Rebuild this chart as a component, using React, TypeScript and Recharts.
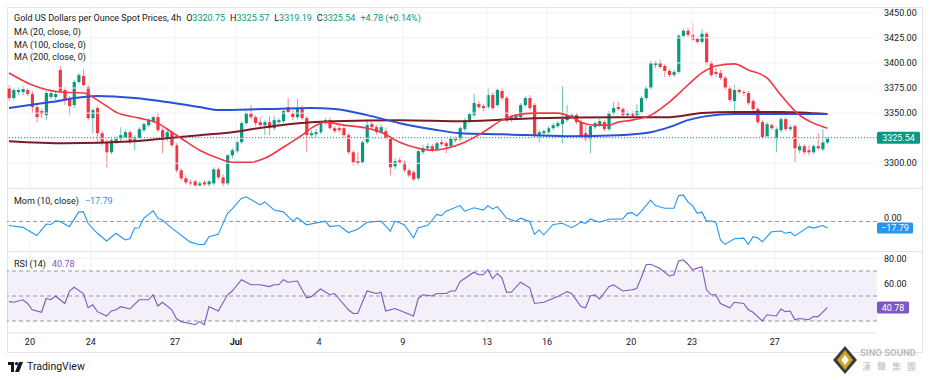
import { ComposedChart, Bar, Line, XAxis, YAxis, ReferenceLine, ReferenceArea } from 'recharts'

const UP = '#089981'
const DOWN = '#f23645'
const TEXT = '#131722'
const GRID = '#f0f3fa'
const BORDER = '#e0e3eb'
const DASH = '#9598a1'
const FONT = 'Roboto, "Noto Sans", sans-serif'

// 4h candles, oldest first
const opens = [
  3375, 3365, 3371, 3371, 3373, 3369, 3356, 3352, 3348, 3366,
  3366, 3393, 3373, 3365, 3358, 3381, 3387, 3376, 3345, 3355,
  3330, 3321, 3311, 3322, 3324, 3326, 3331, 3323, 3325, 3333,
  3338, 3342, 3346, 3333, 3325, 3331, 3318, 3293, 3285, 3281,
  3282, 3278, 3281, 3279, 3280, 3294, 3286, 3280, 3308, 3312,
  3321, 3340, 3350, 3346, 3341, 3338, 3341, 3335, 3341, 3342,
  3356, 3350, 3346, 3355, 3345, 3328, 3329, 3331, 3340, 3343,
  3335, 3335, 3335, 3328, 3311, 3302, 3301, 3321, 3339, 3336,
  3331, 3332, 3325, 3297, 3303, 3301, 3293, 3291, 3285, 3311,
  3315, 3317, 3314, 3321, 3320, 3317, 3325, 3324, 3334, 3342,
  3348, 3359, 3357, 3356, 3368, 3358, 3372, 3365, 3344, 3345,
  3346, 3358, 3365, 3358, 3328, 3330, 3331, 3335, 3337, 3339,
  3343, 3346, 3348, 3341, 3330, 3324, 3336, 3338, 3341, 3334,
  3350, 3356, 3354, 3348, 3350, 3348, 3351, 3365, 3375, 3398,
  3400, 3397, 3392, 3388, 3391, 3427, 3432, 3428, 3424, 3421,
  3429, 3400, 3391, 3390, 3385, 3375, 3362, 3373, 3371, 3370,
  3362, 3354, 3341, 3327, 3338, 3324, 3333, 3344, 3334, 3337,
  3313, 3317, 3313, 3311, 3317, 3314, 3320.75,
]
const highs = [
  3378, 3375, 3376, 3377, 3375, 3372, 3359, 3355, 3372, 3372,
  3371, 3397, 3376, 3367, 3383, 3390, 3394, 3378, 3355, 3357,
  3332, 3324, 3325, 3327, 3336, 3333, 3333, 3328, 3336, 3341,
  3345, 3347, 3351, 3336, 3333, 3333, 3320, 3295, 3288, 3284,
  3284, 3282, 3283, 3283, 3296, 3296, 3289, 3309, 3315, 3323,
  3342, 3352, 3358, 3348, 3346, 3343, 3347, 3347, 3345, 3353,
  3365, 3353, 3364, 3358, 3347, 3333, 3334, 3342, 3345, 3346,
  3337, 3338, 3337, 3330, 3313, 3311, 3323, 3343, 3341, 3338,
  3338, 3336, 3327, 3305, 3306, 3303, 3295, 3293, 3314, 3318,
  3320, 3319, 3322, 3324, 3322, 3327, 3327, 3337, 3345, 3351,
  3369, 3362, 3359, 3375, 3371, 3375, 3375, 3367, 3348, 3349,
  3360, 3367, 3368, 3360, 3333, 3334, 3337, 3340, 3342, 3377,
  3358, 3350, 3350, 3343, 3338, 3339, 3342, 3344, 3343, 3352,
  3361, 3361, 3356, 3352, 3352, 3359, 3367, 3377, 3402, 3402,
  3403, 3399, 3394, 3393, 3429, 3434, 3435, 3440, 3426, 3434,
  3431, 3402, 3395, 3393, 3387, 3377, 3378, 3376, 3373, 3372,
  3364, 3356, 3343, 3341, 3340, 3336, 3346, 3346, 3338, 3339,
  3320, 3319, 3318, 3319, 3330, 3334, 3325.57,
]
const lows = [
  3362, 3363, 3368, 3368, 3367, 3350, 3341, 3345, 3343, 3364,
  3363, 3371, 3358, 3348, 3355, 3379, 3376, 3343, 3330, 3320,
  3318, 3296, 3309, 3319, 3322, 3324, 3319, 3313, 3323, 3331,
  3336, 3340, 3331, 3310, 3322, 3316, 3291, 3283, 3279, 3278,
  3277, 3277, 3277, 3277, 3278, 3284, 3277, 3278, 3305, 3310,
  3319, 3338, 3344, 3337, 3336, 3328, 3328, 3333, 3339, 3340,
  3350, 3343, 3344, 3343, 3311, 3325, 3326, 3329, 3338, 3333,
  3330, 3331, 3326, 3309, 3298, 3298, 3299, 3319, 3334, 3329,
  3329, 3323, 3288, 3294, 3299, 3291, 3286, 3282, 3283, 3309,
  3313, 3311, 3312, 3317, 3310, 3315, 3321, 3322, 3332, 3340,
  3346, 3354, 3352, 3354, 3353, 3356, 3363, 3341, 3341, 3343,
  3344, 3356, 3353, 3326, 3321, 3328, 3329, 3333, 3335, 3320,
  3341, 3344, 3339, 3324, 3322, 3310, 3334, 3336, 3332, 3332,
  3348, 3352, 3346, 3346, 3345, 3346, 3349, 3363, 3373, 3395,
  3394, 3386, 3386, 3386, 3389, 3425, 3426, 3421, 3419, 3419,
  3398, 3386, 3386, 3383, 3373, 3361, 3351, 3369, 3367, 3358,
  3352, 3339, 3324, 3325, 3333, 3311, 3331, 3332, 3332, 3301,
  3310, 3309, 3308, 3309, 3313, 3312, 3319.19,
]
const closes = [
  3365, 3373, 3373, 3374, 3369, 3356, 3346, 3349, 3370, 3370,
  3369, 3372, 3363, 3357, 3381, 3388, 3378, 3345, 3353, 3330,
  3320, 3311, 3323, 3325, 3328, 3331, 3321, 3326, 3334, 3339,
  3343, 3346, 3333, 3325, 3331, 3318, 3293, 3285, 3281, 3280,
  3278, 3280, 3279, 3282, 3294, 3286, 3280, 3308, 3313, 3321,
  3340, 3350, 3346, 3340, 3338, 3341, 3335, 3343, 3343, 3352,
  3351, 3346, 3355, 3345, 3328, 3330, 3331, 3340, 3343, 3335,
  3332, 3333, 3328, 3311, 3301, 3300, 3321, 3338, 3336, 3331,
  3336, 3325, 3296, 3302, 3301, 3293, 3288, 3284, 3312, 3315,
  3317, 3313, 3320, 3319, 3317, 3325, 3323, 3335, 3343, 3349,
  3360, 3356, 3355, 3368, 3355, 3373, 3365, 3343, 3346, 3347,
  3358, 3365, 3355, 3328, 3331, 3332, 3335, 3338, 3340, 3344,
  3348, 3348, 3341, 3326, 3324, 3337, 3340, 3342, 3334, 3350,
  3355, 3354, 3348, 3350, 3347, 3352, 3365, 3375, 3400, 3400,
  3396, 3392, 3388, 3391, 3427, 3432, 3428, 3423, 3421, 3429,
  3400, 3388, 3389, 3385, 3375, 3363, 3373, 3371, 3370, 3360,
  3354, 3341, 3326, 3339, 3335, 3334, 3344, 3334, 3336, 3315,
  3317, 3311, 3311, 3317, 3315, 3320.75, 3325.54,
]

// moving averages, momentum and RSI as [bar, value] readings
const ma20Points = [
  [0, 3390], [5, 3378], [11, 3371], [16, 3370], [20, 3360], [23, 3351], [28, 3345], [32, 3340],
  [35, 3331], [37, 3325], [41, 3313], [45, 3305], [48, 3301], [52, 3301], [55, 3305], [59, 3316],
  [63, 3328], [65, 3335], [68, 3341], [72, 3338], [77, 3335], [80, 3331], [84, 3321], [88, 3315],
  [91, 3313], [95, 3316], [98, 3321], [102, 3331], [106, 3343], [109, 3348], [113, 3350], [118, 3350],
  [121, 3346], [123, 3341], [126, 3338], [129, 3338], [131, 3341], [134, 3343], [138, 3348], [142, 3361],
  [146, 3378], [149, 3390], [152, 3397], [156, 3399], [159, 3393], [163, 3385], [166, 3368], [170, 3348],
  [173, 3340], [176, 3335],
]
const ma100Points = [
  [0, 3355], [9, 3361], [16, 3366], [19, 3367], [27, 3365], [34, 3361], [41, 3356], [45, 3353],
  [55, 3354], [65, 3355], [70, 3354], [77, 3348], [84, 3340], [91, 3334], [97, 3330], [106, 3329],
  [120, 3327], [131, 3328], [138, 3331], [142, 3336], [146, 3343], [150, 3347], [156, 3349], [163, 3349],
  [170, 3349], [176, 3349],
]
const ma200Points = [
  [0, 3322], [12, 3320], [27, 3322], [34, 3325], [41, 3328], [48, 3331], [55, 3336], [65, 3341],
  [70, 3342], [84, 3343], [98, 3342], [113, 3345], [131, 3346], [142, 3346], [149, 3350], [156, 3351],
  [166, 3351], [176, 3349],
]
const momPoints = [
  [0, -11], [3, -16], [6, -38], [8, -7], [9, -8], [10, 2], [11, 0], [13, -14], [15, 26], [16, 26],
  [17, -5], [19, -32], [21, -53], [23, -32], [25, -50], [26, -47], [27, -18], [28, -17], [29, 9], [31, 29],
  [32, 9], [33, 4], [35, -18], [39, -56], [41, -63], [42, -62], [43, -41], [45, -35], [47, 22], [48, 34],
  [50, 63], [51, 67], [54, 45], [55, 53], [57, 31], [59, 26], [61, 1], [62, 10], [64, -9], [68, 1],
  [69, -14], [71, -11], [73, -30], [75, -21], [77, -2], [80, 1], [82, -26], [83, 1], [85, -9], [87, -44],
  [88, -17], [90, -11], [92, 19], [93, 16], [94, 28], [97, 43], [98, 28], [100, 37], [102, 31], [103, 43],
  [104, 34], [105, 40], [107, 9], [109, 0], [110, 9], [112, 0], [113, -35], [114, -23], [115, -36], [117, -8],
  [119, -5], [121, -17], [123, -2], [124, -5], [125, 7], [127, -2], [129, 6], [132, 7], [133, 22], [134, 24],
  [135, 15], [136, 28], [138, 58], [139, 43], [141, 36], [143, 36], [144, 70], [145, 72], [146, 53], [147, 43],
  [148, 22], [149, 26], [150, 1], [151, 1], [152, -2], [153, -50], [154, -62], [156, -47], [158, -45], [159, -62],
  [160, -41], [161, -44], [162, -55], [164, -28], [166, -26], [167, -32], [168, -29], [169, -39], [172, -14], [173, -18],
  [175, -11], [176, -17.79],
]
const rsiPoints = [
  [0, 45.5], [1, 45], [3, 47], [4, 44], [5, 39], [7, 37], [8, 48], [9, 47], [10, 50], [12, 44],
  [13, 54], [14, 57], [16, 52], [17, 40.6], [18, 43], [19, 37.5], [21, 34], [22, 38], [23, 39], [24, 41.5],
  [26, 39.6], [28, 47], [30, 47], [31, 51], [32, 42], [33, 45], [35, 39], [36, 32], [37, 29.5], [39, 28],
  [40, 27], [41, 29.5], [42, 27], [43, 41.5], [45, 38], [47, 51], [48, 54], [50, 63], [52, 59], [54, 59],
  [56, 57.5], [57, 59], [58, 59], [59, 63], [60, 61], [62, 62], [64, 48.6], [65, 49.5], [67, 55.6], [69, 51],
  [70, 52], [73, 39], [74, 36], [75, 36], [77, 54], [79, 52], [80, 53], [81, 38], [83, 40], [85, 37],
  [87, 34], [88, 48], [89, 51], [91, 50], [92, 52], [94, 52], [95, 54], [96, 54], [97, 61.5], [98, 64],
  [100, 69], [101, 67], [102, 67], [103, 71], [104, 64], [105, 68], [106, 64.6], [107, 53], [108, 53], [110, 61],
  [112, 56.6], [113, 44], [115, 45], [118, 49.5], [120, 53.5], [121, 52], [123, 41.5], [124, 40.6], [125, 50], [126, 51],
  [127, 47.6], [129, 57.5], [130, 59], [132, 54], [134, 55], [135, 56], [136, 65], [137, 75], [138, 75.4], [140, 72],
  [142, 66], [143, 67], [144, 78], [145, 79], [146, 75.4], [147, 71], [149, 73.5], [150, 55], [151, 51], [152, 51],
  [153, 44], [155, 40.6], [156, 45], [158, 44], [159, 39], [160, 37], [162, 30], [163, 35], [165, 34], [166, 39.6],
  [167, 37.5], [168, 38], [169, 31], [170, 32], [172, 31], [173, 33.5], [174, 33.5], [176, 40.78],
]

const timeTickBars = [4.5, 17.6, 35.7, 48.8, 66.7, 84.7, 102.8, 115.7, 133.8, 146.9, 164.7]
const timeTickLabels = ['20', '24', '27', 'Jul', '4', '9', '13', '16', '20', '23', '27']
// 3325.00 sits under the last-price badge, so only its grid line is drawn
const priceTicks = [3300, 3350, 3375, 3400, 3425, 3450]
const priceGrid = [3300, 3325, 3350, 3375, 3400, 3425, 3450]
const rsiTicks = [60, 80]

const lastClose = 3325.54
const lastMom = -17.79
const lastRsi = 40.78

const rows: any[] = closes.map((c, i) => ({
  i, o: opens[i], h: highs[i], l: lows[i], c, range: [lows[i], highs[i]],
}))
function addSeries(key: string, pts: number[][]) {
  pts.forEach(([b, v]) => { rows[b][key] = v })
}
addSeries('ma20', ma20Points)
addSeries('ma100', ma100Points)
addSeries('ma200', ma200Points)
addSeries('mom', momPoints)
addSeries('rsi', rsiPoints)

const X_DOMAIN = [-0.43, 186.67]
const CHART_W = 915
const AXIS_W = 45

function Candle(props: any) {
  const { x, y, width, height, payload } = props
  if (!payload) return null
  const { o, h, l, c } = payload
  const top = height >= 0 ? y : y + height
  const span = Math.abs(height)
  const ppu = h > l ? span / (h - l) : 0
  const cx = x + width / 2
  const color = c >= o ? UP : DOWN
  const bodyTop = top + (h - Math.max(o, c)) * ppu
  const bodyH = Math.max(1, Math.abs(o - c) * ppu)
  return (
    <g>
      <line x1={cx} x2={cx} y1={top} y2={top + span} stroke={color} strokeOpacity={0.6} strokeWidth={1} />
      <rect x={cx - 1.6} y={bodyTop} width={3.2} height={bodyH} fill={color} />
    </g>
  )
}

const badge = (text: string, color: string, w: number, h = 12) => (props: any) => {
  const vb = props.viewBox
  if (!vb) return null
  const x = vb.x + vb.width
  return (
    <g>
      <rect x={x} y={vb.y - h / 2} width={w} height={h} rx={1.5} fill={color} />
      <text x={x + w / 2} y={vb.y} dy="0.35em" textAnchor="middle" fontSize={9} fill="#fff" fontFamily={FONT}>{text}</text>
    </g>
  )
}

function TimeTick(props: any) {
  const { x, y, payload } = props
  const label = timeTickLabels[timeTickBars.indexOf(payload.value)]
  return (
    <text x={x} y={y} dy="0.71em" textAnchor="middle" fontSize={9} fontFamily={FONT}
      fontWeight={label === 'Jul' ? 700 : 400} fill={TEXT}>{label}</text>
  )
}

const yTick = { fontSize: 9, fill: TEXT, fontFamily: FONT }
const vGrid = timeTickBars.map((b) => <ReferenceLine key={'v' + b} x={b} stroke={GRID} />)

export default function App() {
  const abs = (left: number, top: number, extra: any = {}) => ({
    position: 'absolute' as const, left, top, fontSize: 9, lineHeight: '12px', color: TEXT, whiteSpace: 'nowrap' as const, ...extra,
  })
  return (
    <div style={{ position: 'absolute', left: 0, top: 0, width: 930, height: 380, background: '#fff', fontFamily: FONT, overflow: 'hidden' }}>
      <div style={{ position: 'absolute', left: 7, top: 7, width: 914, height: 344, border: `1px solid ${BORDER}` }} />
      <div style={{ position: 'absolute', left: 7, top: 188, width: 915, height: 1, background: BORDER }} />
      <div style={{ position: 'absolute', left: 7, top: 251, width: 915, height: 1, background: BORDER }} />

      {/* price pane */}
      <div style={{ position: 'absolute', left: 7, top: 7 }}>
        <ComposedChart width={CHART_W} height={181} data={rows} margin={{ top: 0, right: 0, bottom: 0, left: 0 }}>
          <XAxis type="number" dataKey="i" domain={X_DOMAIN} hide allowDataOverflow />
          <YAxis orientation="right" domain={[3275.4, 3455.7]} ticks={priceTicks} width={AXIS_W} allowDataOverflow
            tickLine={false} axisLine={false} tickSize={5} tickMargin={2} tick={yTick} tickFormatter={(v: number) => v.toFixed(2)} />
          {priceGrid.map((p) => <ReferenceLine key={'h' + p} y={p} stroke={GRID} />)}
          {vGrid}
          <Line dataKey="ma200" type="monotone" stroke="#7b1b25" strokeWidth={2} dot={false} connectNulls isAnimationActive={false} />
          <Line dataKey="ma100" type="monotone" stroke="#2950d8" strokeWidth={2} dot={false} connectNulls isAnimationActive={false} />
          <ReferenceLine y={lastClose} stroke={UP} strokeDasharray="1 2" label={badge('3325.54', UP, 43)} />
          <Bar dataKey="range" barSize={3} shape={Candle} isAnimationActive={false} />
          <Line dataKey="ma20" type="monotone" stroke="#f23645" strokeWidth={1.6} dot={false} connectNulls isAnimationActive={false} />
        </ComposedChart>
      </div>

      {/* momentum pane */}
      <div style={{ position: 'absolute', left: 7, top: 189 }}>
        <ComposedChart width={CHART_W} height={62} data={rows} margin={{ top: 0, right: 0, bottom: 0, left: 0 }}>
          <XAxis type="number" dataKey="i" domain={X_DOMAIN} hide allowDataOverflow />
          <YAxis orientation="right" domain={[-80, 88]} ticks={[0]} width={AXIS_W} allowDataOverflow
            tickLine={false} axisLine={false} tickSize={5} tickMargin={2} tick={{ ...yTick, dy: -4 }} tickFormatter={(v: number) => v.toFixed(2)} />
          {vGrid}
          <ReferenceLine y={0} stroke={DASH} strokeDasharray="4 3" />
          <Line dataKey="mom" type="linear" stroke="#2196f3" strokeWidth={1.1} dot={false} connectNulls isAnimationActive={false} />
          <ReferenceLine y={lastMom} stroke="none" label={badge('\u221217.79', '#2196f3', 36, 11)} />
        </ComposedChart>
      </div>

      {/* RSI pane with time axis */}
      <div style={{ position: 'absolute', left: 7, top: 252 }}>
        <ComposedChart width={CHART_W} height={100} data={rows} margin={{ top: 0, right: 0, bottom: 0, left: 0 }}>
          <XAxis type="number" dataKey="i" domain={X_DOMAIN} ticks={timeTickBars} allowDataOverflow height={19}
            tickLine={false} tickSize={0} tickMargin={6} axisLine={{ stroke: BORDER }} tick={TimeTick} />
          <YAxis orientation="right" domain={[20.4, 85.2]} ticks={rsiTicks} width={AXIS_W} allowDataOverflow
            tickLine={false} axisLine={false} tickSize={5} tickMargin={2} tick={yTick} tickFormatter={(v: number) => v.toFixed(2)} />
          {rsiTicks.map((r) => <ReferenceLine key={'r' + r} y={r} stroke={GRID} />)}
          {vGrid}
          <ReferenceArea y1={30} y2={70} fill="#7e57c2" fillOpacity={0.09} stroke="none" />
          <ReferenceLine y={70} stroke={DASH} strokeDasharray="4 3" />
          <ReferenceLine y={50} stroke={DASH} strokeDasharray="4 3" />
          <ReferenceLine y={30} stroke={DASH} strokeDasharray="4 3" />
          <Line dataKey="rsi" type="linear" stroke="#7e57c2" strokeWidth={1.1} dot={false} connectNulls isAnimationActive={false} />
          <ReferenceLine y={lastRsi} stroke="none" label={badge('40.78', '#7e57c2', 32)} />
        </ComposedChart>
      </div>

      {/* legends */}
      <div style={abs(14, 12)}>
        Gold US Dollars per Ounce Spot Prices, 4h
        <span style={{ marginLeft: 5 }}>O<span style={{ color: UP }}>3320.75</span></span>
        <span style={{ marginLeft: 5 }}>H<span style={{ color: UP }}>3325.57</span></span>
        <span style={{ marginLeft: 5 }}>L<span style={{ color: UP }}>3319.19</span></span>
        <span style={{ marginLeft: 5 }}>C<span style={{ color: UP }}>3325.54</span></span>
        <span style={{ marginLeft: 5, color: UP }}>+4.78 (+0.14%)</span>
      </div>
      <div style={abs(14, 26)}>MA (20, close, 0)</div>
      <div style={abs(14, 38.5)}>MA (100, close, 0)</div>
      <div style={abs(14, 51)}>MA (200, close, 0)</div>
      <div style={abs(14, 195)}>Mom (10, close)<span style={{ marginLeft: 6, color: '#2196f3' }}>{'\u221217.79'}</span></div>
      <div style={abs(14, 258)}>RSI (14)<span style={{ marginLeft: 6, color: '#7e57c2' }}>40.78</span></div>

      {/* TradingView mark */}
      <div style={{ position: 'absolute', left: 8, top: 360, display: 'flex', alignItems: 'center' }}>
        <svg width={16} height={10} viewBox="0 0 16 10">
          <path d="M0 0h6v10H3V3H0z" fill={TEXT} />
          <circle cx={8.5} cy={1.6} r={1.6} fill={TEXT} />
          <path d="M11 0h4l-4 10H7z" fill={TEXT} />
        </svg>
        <span style={{ marginLeft: 3, fontSize: 10.5, color: TEXT }}>TradingView</span>
      </div>

      {/* watermark */}
      <div style={{ position: 'absolute', left: 832, top: 345 }}>
        <svg width={26} height={30} viewBox="0 0 26 30">
          <polygon points="13,1 25,15 13,29 1,15" fill="#3a3a3a" />
          <polygon points="13,5 21,15 13,25 5,15" fill="#c9a227" />
          <polygon points="13,10 17,15 13,20 9,15" fill="#f4f4f4" />
        </svg>
      </div>
      <div style={{ position: 'absolute', left: 860, top: 347, fontSize: 9.5, fontWeight: 700, color: '#bdbdbd', whiteSpace: 'nowrap' }}>SINO SOUND</div>
      <div style={{ position: 'absolute', left: 862, top: 360, fontSize: 9, letterSpacing: 6, color: '#bdbdbd', whiteSpace: 'nowrap', fontFamily: '"Noto Sans CJK TC", sans-serif' }}>漢聲集團</div>
    </div>
  )
}
